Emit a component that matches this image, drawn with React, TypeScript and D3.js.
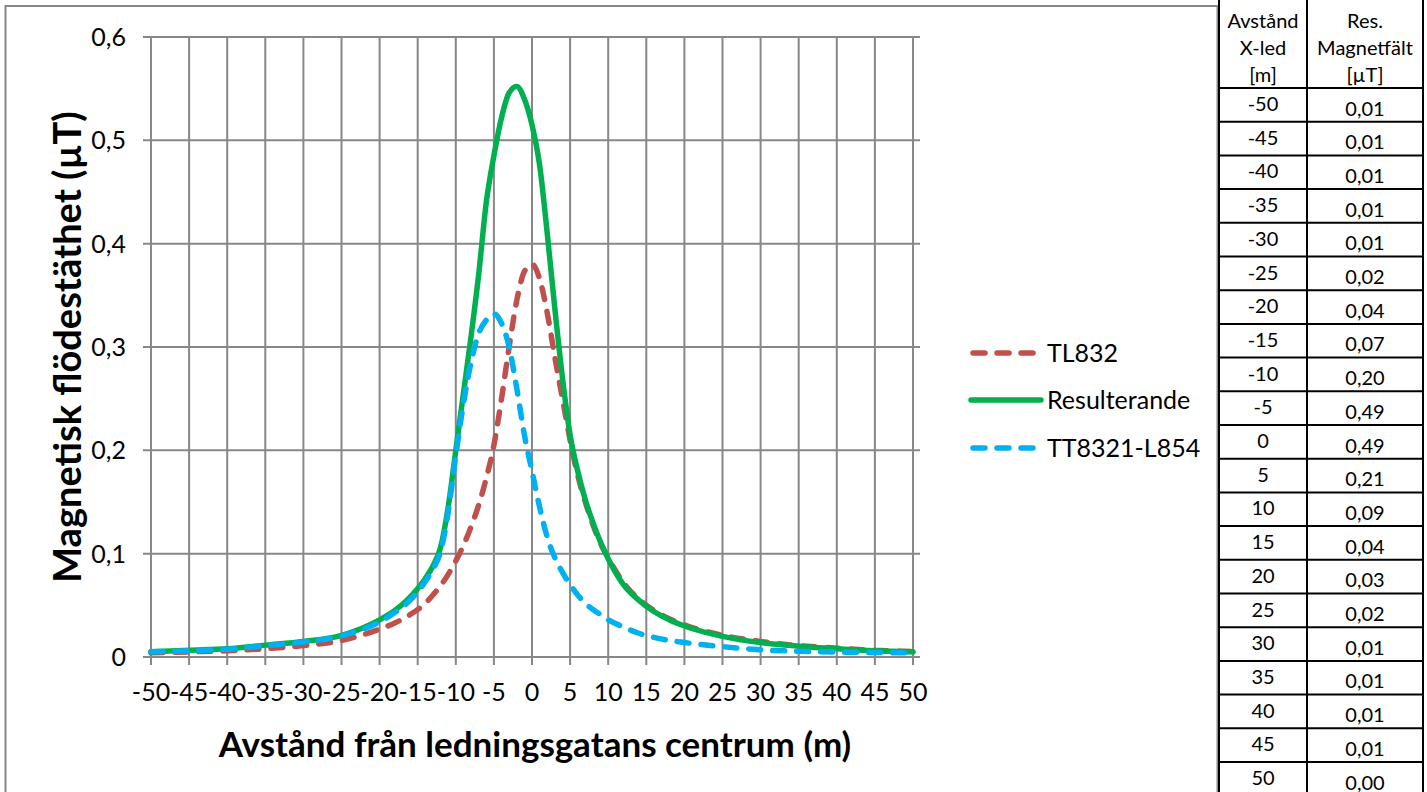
import React from 'react';
import * as d3 from 'd3';

// distance from the centre of the corridor (m)
const distances = [
  -50, -45, -40, -35, -30, -25, -20, -18, -16, -14, -13, -12, -11, -10, -9, -8, -7, -6, -5, -4, -3, -2, -1,
  0, 1, 2, 3, 4, 5, 6, 7, 8, 9, 10, 12, 14, 16, 18, 20, 25, 30, 35, 40, 45, 50
];

const tl832 = [
  0.004, 0.005, 0.006, 0.008, 0.011, 0.016, 0.027, 0.033, 0.041, 0.052, 0.06, 0.069, 0.08, 0.093, 0.108, 0.126,
  0.147, 0.173, 0.205, 0.25, 0.3, 0.345, 0.373,
  0.38, 0.366, 0.333, 0.29, 0.25, 0.21, 0.176, 0.15, 0.128, 0.11, 0.096, 0.072, 0.056, 0.045, 0.037, 0.031,
  0.021, 0.015, 0.011, 0.0085, 0.0065, 0.0052
];

const resulterande = [
  0.005, 0.0065, 0.008, 0.0115, 0.015, 0.021, 0.036, 0.045, 0.058, 0.076, 0.088, 0.106, 0.145, 0.2, 0.255, 0.31,
  0.37, 0.44, 0.485, 0.522, 0.546, 0.552, 0.54,
  0.515, 0.476, 0.41, 0.337, 0.27, 0.215, 0.18, 0.152, 0.13, 0.111, 0.095, 0.07, 0.055, 0.044, 0.036, 0.03,
  0.02, 0.014, 0.0105, 0.008, 0.006, 0.005
];

const tt8321 = [
  0.005, 0.006, 0.0075, 0.011, 0.0145, 0.0205, 0.034, 0.043, 0.055, 0.073, 0.085, 0.102, 0.14, 0.195, 0.245, 0.285,
  0.313, 0.326, 0.332, 0.323, 0.3, 0.26, 0.215,
  0.18, 0.145, 0.116, 0.096, 0.082, 0.07, 0.06, 0.052, 0.046, 0.041, 0.036, 0.029, 0.023, 0.019, 0.016, 0.014,
  0.01, 0.007, 0.0055, 0.0048, 0.0044, 0.004
];

const xTicks = [-50, -45, -40, -35, -30, -25, -20, -15, -10, -5, 0, 5, 10, 15, 20, 25, 30, 35, 40, 45, 50];
const yTicks = [0, 0.1, 0.2, 0.3, 0.4, 0.5, 0.6];

// table beside the chart
const tableDistance = [-50, -45, -40, -35, -30, -25, -20, -15, -10, -5, 0, 5, 10, 15, 20, 25, 30, 35, 40, 45, 50];
const tableField = [
  0.01, 0.01, 0.01, 0.01, 0.01, 0.02, 0.04, 0.07, 0.2, 0.49, 0.49, 0.21, 0.09, 0.04, 0.03, 0.02, 0.01, 0.01,
  0.01, 0.01, 0.0
];

const series = [
  { name: 'TL832', values: tl832, color: '#C0504D', dashed: true },
  { name: 'Resulterande', values: resulterande, color: '#00B050', dashed: false },
  { name: 'TT8321-L854', values: tt8321, color: '#00B0F0', dashed: true }
];

const sv = d3.formatLocale({ decimal: ',', thousands: ' ', grouping: [3], currency: ['', ' kr'] });
const fmt1 = sv.format('.1f');
const fmt2 = sv.format('.2f');

const FONT = 'Lato, "Open Sans", sans-serif';
const GRID = '#878787';

export default function App() {
  const width = 1427;
  const height = 792;

  const x = d3.scaleLinear().domain([-50, 50]).range([151, 913]);
  const y = d3.scaleLinear().domain([0, 0.6]).range([657, 37]);

  const line = d3
    .line<number>()
    .x((_, i) => x(distances[i]))
    .y(d => y(d))
    .curve(d3.curveMonotoneX);

  // table geometry
  const tLeft = 1219;
  const tMid = 1307;
  const tRight = 1423;
  const headBottom = 88;
  const rowH = 33.7;
  const c1 = (tLeft + tMid) / 2;
  const c2 = (tMid + tRight) / 2;

  const legendY = [353, 400, 448];

  return (
    <svg
      width={width}
      height={height}
      style={{ position: 'absolute', left: 0, top: 0, background: '#fff' }}
      fontFamily={FONT}
    >
      {/* chart frame */}
      <rect x={5.5} y={6} width={1212} height={820} fill="#fff" stroke={GRID} strokeWidth={2} />

      {/* vertical grid + ticks */}
      {xTicks.map(t => (
        <line key={'gx' + t} x1={x(t)} x2={x(t)} y1={y(0.6)} y2={665} stroke={GRID} strokeWidth={2} />
      ))}
      {/* horizontal grid + ticks */}
      {yTicks.map(t => (
        <line key={'gy' + t} x1={143} x2={920} y1={y(t)} y2={y(t)} stroke={GRID} strokeWidth={2} />
      ))}

      {/* tick labels */}
      {yTicks.map(t => (
        <text key={'ly' + t} x={126} y={y(t) + 9} textAnchor="end" fontSize={25} fill="#000">
          {t === 0 ? '0' : fmt1(t)}
        </text>
      ))}
      {xTicks.map(t => (
        <text key={'lx' + t} x={x(t)} y={701} textAnchor="middle" fontSize={25} fill="#000">
          {t}
        </text>
      ))}

      {/* series */}
      {series.map(s => (
        <path
          key={s.name}
          d={line(s.values) || ''}
          fill="none"
          stroke={s.color}
          strokeWidth={5.5}
          strokeLinecap="round"
          strokeLinejoin="round"
          strokeDasharray={s.dashed ? '12 12' : undefined}
        />
      ))}

      {/* axis titles */}
      <text x={535} y={757} textAnchor="middle" fontSize={35} fontWeight="bold" fill="#000">
        Avstånd från ledningsgatans centrum (m)
      </text>
      <text
        transform={`translate(81,${347}) rotate(-90)`}
        textAnchor="middle"
        fontSize={38}
        fontWeight="bold"
        fill="#000"
      >
        Magnetisk flödestäthet (µT)
      </text>

      {/* legend */}
      {series.map((s, i) => (
        <g key={'lg' + s.name}>
          <line
            x1={s.dashed ? 973 : 971}
            x2={s.dashed ? 1033 : 1041}
            y1={legendY[i]}
            y2={legendY[i]}
            stroke={s.color}
            strokeWidth={5.5}
            strokeLinecap="round"
            strokeDasharray={s.dashed ? '12 12' : undefined}
          />
          <text x={1047} y={legendY[i] + 9} fontSize={25} fill="#000">
            {s.name}
          </text>
        </g>
      ))}

      {/* table */}
      <g fill="#000" fontSize={20}>
        {['Avstånd', 'X-led', '[m]'].map((t, i) => (
          <text key={'h1' + i} x={c1} y={28 + i * 27} textAnchor="middle">
            {t}
          </text>
        ))}
        {['Res.', 'Magnetfält', '[µT]'].map((t, i) => (
          <text key={'h2' + i} x={c2} y={28 + i * 27} textAnchor="middle">
            {t}
          </text>
        ))}
        {tableDistance.map((d, i) => (
          <g key={'row' + d}>
            <text x={c1} y={headBottom + i * rowH + 23} textAnchor="middle">
              {d}
            </text>
            <text x={c2} y={headBottom + i * rowH + 27.5} textAnchor="middle">
              {fmt2(tableField[i])}
            </text>
          </g>
        ))}
      </g>
      <g stroke="#000" strokeWidth={2}>
        {[tLeft, tMid, tRight].map(v => (
          <line key={'tv' + v} x1={v} x2={v} y1={0} y2={height} />
        ))}
        {d3.range(tableDistance.length).map(i => (
          <line
            key={'th' + i}
            x1={tLeft}
            x2={tRight}
            y1={headBottom + i * rowH}
            y2={headBottom + i * rowH}
          />
        ))}
      </g>
    </svg>
  );
}
